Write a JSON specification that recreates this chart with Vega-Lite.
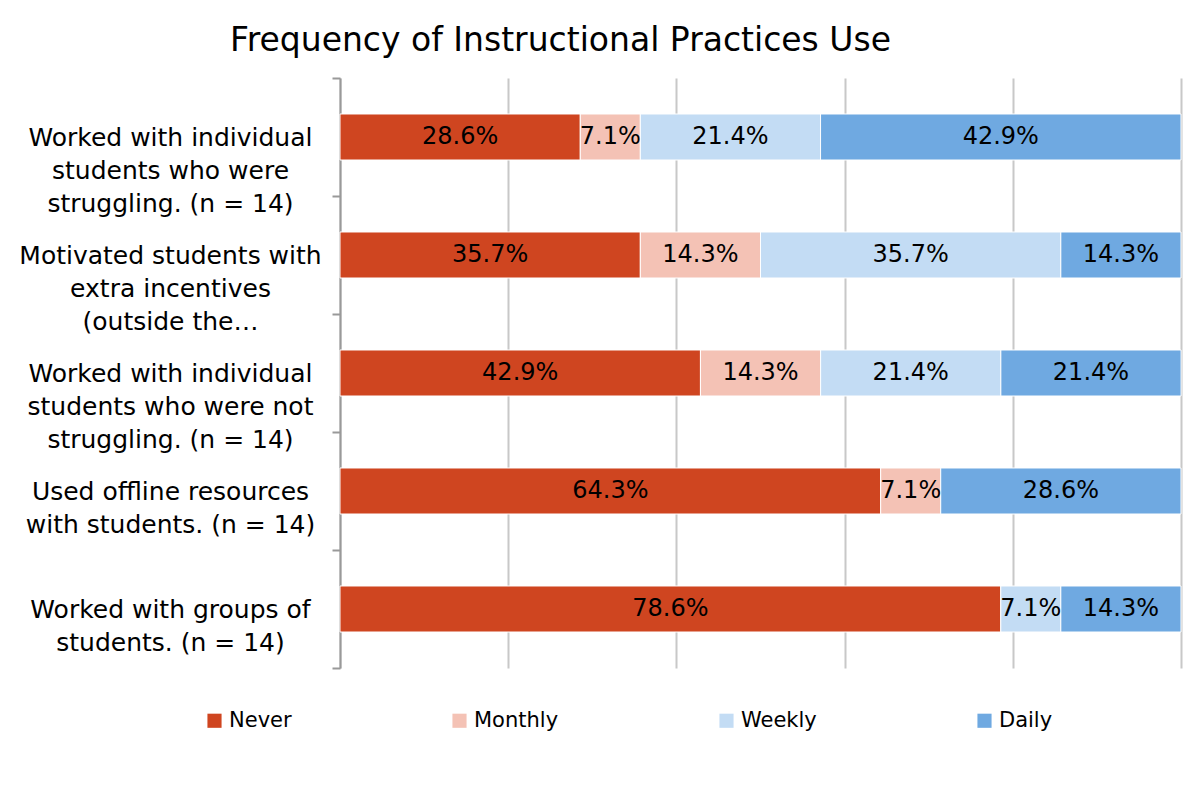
{
  "$schema": "https://vega.github.io/schema/vega-lite/v6.json",
  "autosize": {"type": "none"},
  "padding": {"left": 340, "top": 78, "right": 22, "bottom": 133},
  "width": 841,
  "height": 590,
  "background": "white",
  "title": {
    "text": "Frequency of Instructional Practices Use",
    "font": "DejaVu Sans",
    "fontSize": 33,
    "fontWeight": "normal",
    "color": "#000000",
    "anchor": "middle",
    "dx": -200,
    "offset": 8
  },
  "data": {
    "values": [
      {"cat": "Worked with individual|students who were|struggling. (n = 14)", "freq": "Never", "value": 0.2857},
      {"cat": "Worked with individual|students who were|struggling. (n = 14)", "freq": "Monthly", "value": 0.0714},
      {"cat": "Worked with individual|students who were|struggling. (n = 14)", "freq": "Weekly", "value": 0.2143},
      {"cat": "Worked with individual|students who were|struggling. (n = 14)", "freq": "Daily", "value": 0.4286},
      {"cat": "Motivated students with|extra incentives|\u00a0\u00a0(outside the…", "freq": "Never", "value": 0.3571},
      {"cat": "Motivated students with|extra incentives|\u00a0\u00a0(outside the…", "freq": "Monthly", "value": 0.1429},
      {"cat": "Motivated students with|extra incentives|\u00a0\u00a0(outside the…", "freq": "Weekly", "value": 0.3571},
      {"cat": "Motivated students with|extra incentives|\u00a0\u00a0(outside the…", "freq": "Daily", "value": 0.1429},
      {"cat": "Worked with individual|students who were not|struggling. (n = 14)", "freq": "Never", "value": 0.4286},
      {"cat": "Worked with individual|students who were not|struggling. (n = 14)", "freq": "Monthly", "value": 0.1429},
      {"cat": "Worked with individual|students who were not|struggling. (n = 14)", "freq": "Weekly", "value": 0.2143},
      {"cat": "Worked with individual|students who were not|struggling. (n = 14)", "freq": "Daily", "value": 0.2143},
      {"cat": "Used offline resources|with students. (n = 14)", "freq": "Never", "value": 0.6429},
      {"cat": "Used offline resources|with students. (n = 14)", "freq": "Monthly", "value": 0.0714},
      {"cat": "Used offline resources|with students. (n = 14)", "freq": "Daily", "value": 0.2857},
      {"cat": "Worked with groups of|students. (n = 14)", "freq": "Never", "value": 0.7857},
      {"cat": "Worked with groups of|students. (n = 14)", "freq": "Weekly", "value": 0.0714},
      {"cat": "Worked with groups of|students. (n = 14)", "freq": "Daily", "value": 0.1429}
    ]
  },
  "transform": [
    {"calculate": "indexof(['Never','Monthly','Weekly','Daily'], datum.freq)", "as": "ord"},
    {"stack": "value", "groupby": ["cat"], "sort": [{"field": "ord", "order": "ascending"}], "as": ["v0", "v1"]},
    {"calculate": "(datum.v0 + datum.v1) / 2", "as": "mid"}
  ],
  "encoding": {
    "y": {
      "field": "cat",
      "type": "nominal",
      "sort": null,
      "scale": {"paddingInner": 0, "paddingOuter": 0},
      "axis": {
        "title": null,
        "labelExpr": "split(datum.label, '|')",
        "labelFont": "DejaVu Sans",
        "labelFontSize": 25,
        "labelColor": "#000000",
        "labelAlign": "center",
        "labelBaseline": "middle",
        "labelLineHeight": 33,
        "labelPadding": 162,
        "labelLimit": 400,
        "tickBand": "extent",
        "tickSize": 8,
        "tickColor": "#999999",
        "tickWidth": 2,
        "domainColor": "#999999",
        "domainWidth": 2,
        "grid": false
      }
    }
  },
  "layer": [
    {
      "mark": {"type": "bar", "stroke": "white", "strokeWidth": 1, "height": {"band": 0.39}},
      "encoding": {
        "x": {
          "field": "v0",
          "type": "quantitative",
          "scale": {"domain": [0, 1], "nice": false},
          "axis": {
            "title": null,
            "labels": false,
            "ticks": false,
            "domain": false,
            "grid": true,
            "values": [0, 0.2, 0.4, 0.6, 0.8, 1],
            "gridColor": "#C8C8C8",
            "gridWidth": 2
          }
        },
        "x2": {"field": "v1"},
        "color": {
          "field": "freq",
          "type": "nominal",
          "scale": {
            "domain": ["Never", "Monthly", "Weekly", "Daily"],
            "range": ["#CF4520", "#F4C2B5", "#C3DCF4", "#6FA9E1"]
          },
          "legend": {
            "title": null,
            "orient": "none",
            "legendX": -136,
            "legendY": 632,
            "direction": "horizontal",
            "columns": 4,
            "columnPadding": 157,
            "symbolType": "square",
            "symbolSize": 200,
            "symbolStrokeWidth": 0,
            "labelFont": "DejaVu Sans",
            "labelFontSize": 21,
            "labelColor": "#000000",
            "labelOffset": 4
          }
        }
      }
    },
    {
      "mark": {"type": "text", "font": "DejaVu Sans", "fontSize": 24, "color": "#000000", "align": "center", "baseline": "middle"},
      "encoding": {
        "x": {"field": "mid", "type": "quantitative"},
        "text": {"field": "value", "type": "quantitative", "format": ".1%"}
      }
    }
  ],
  "config": {
    "view": {"stroke": null}
  }
}
